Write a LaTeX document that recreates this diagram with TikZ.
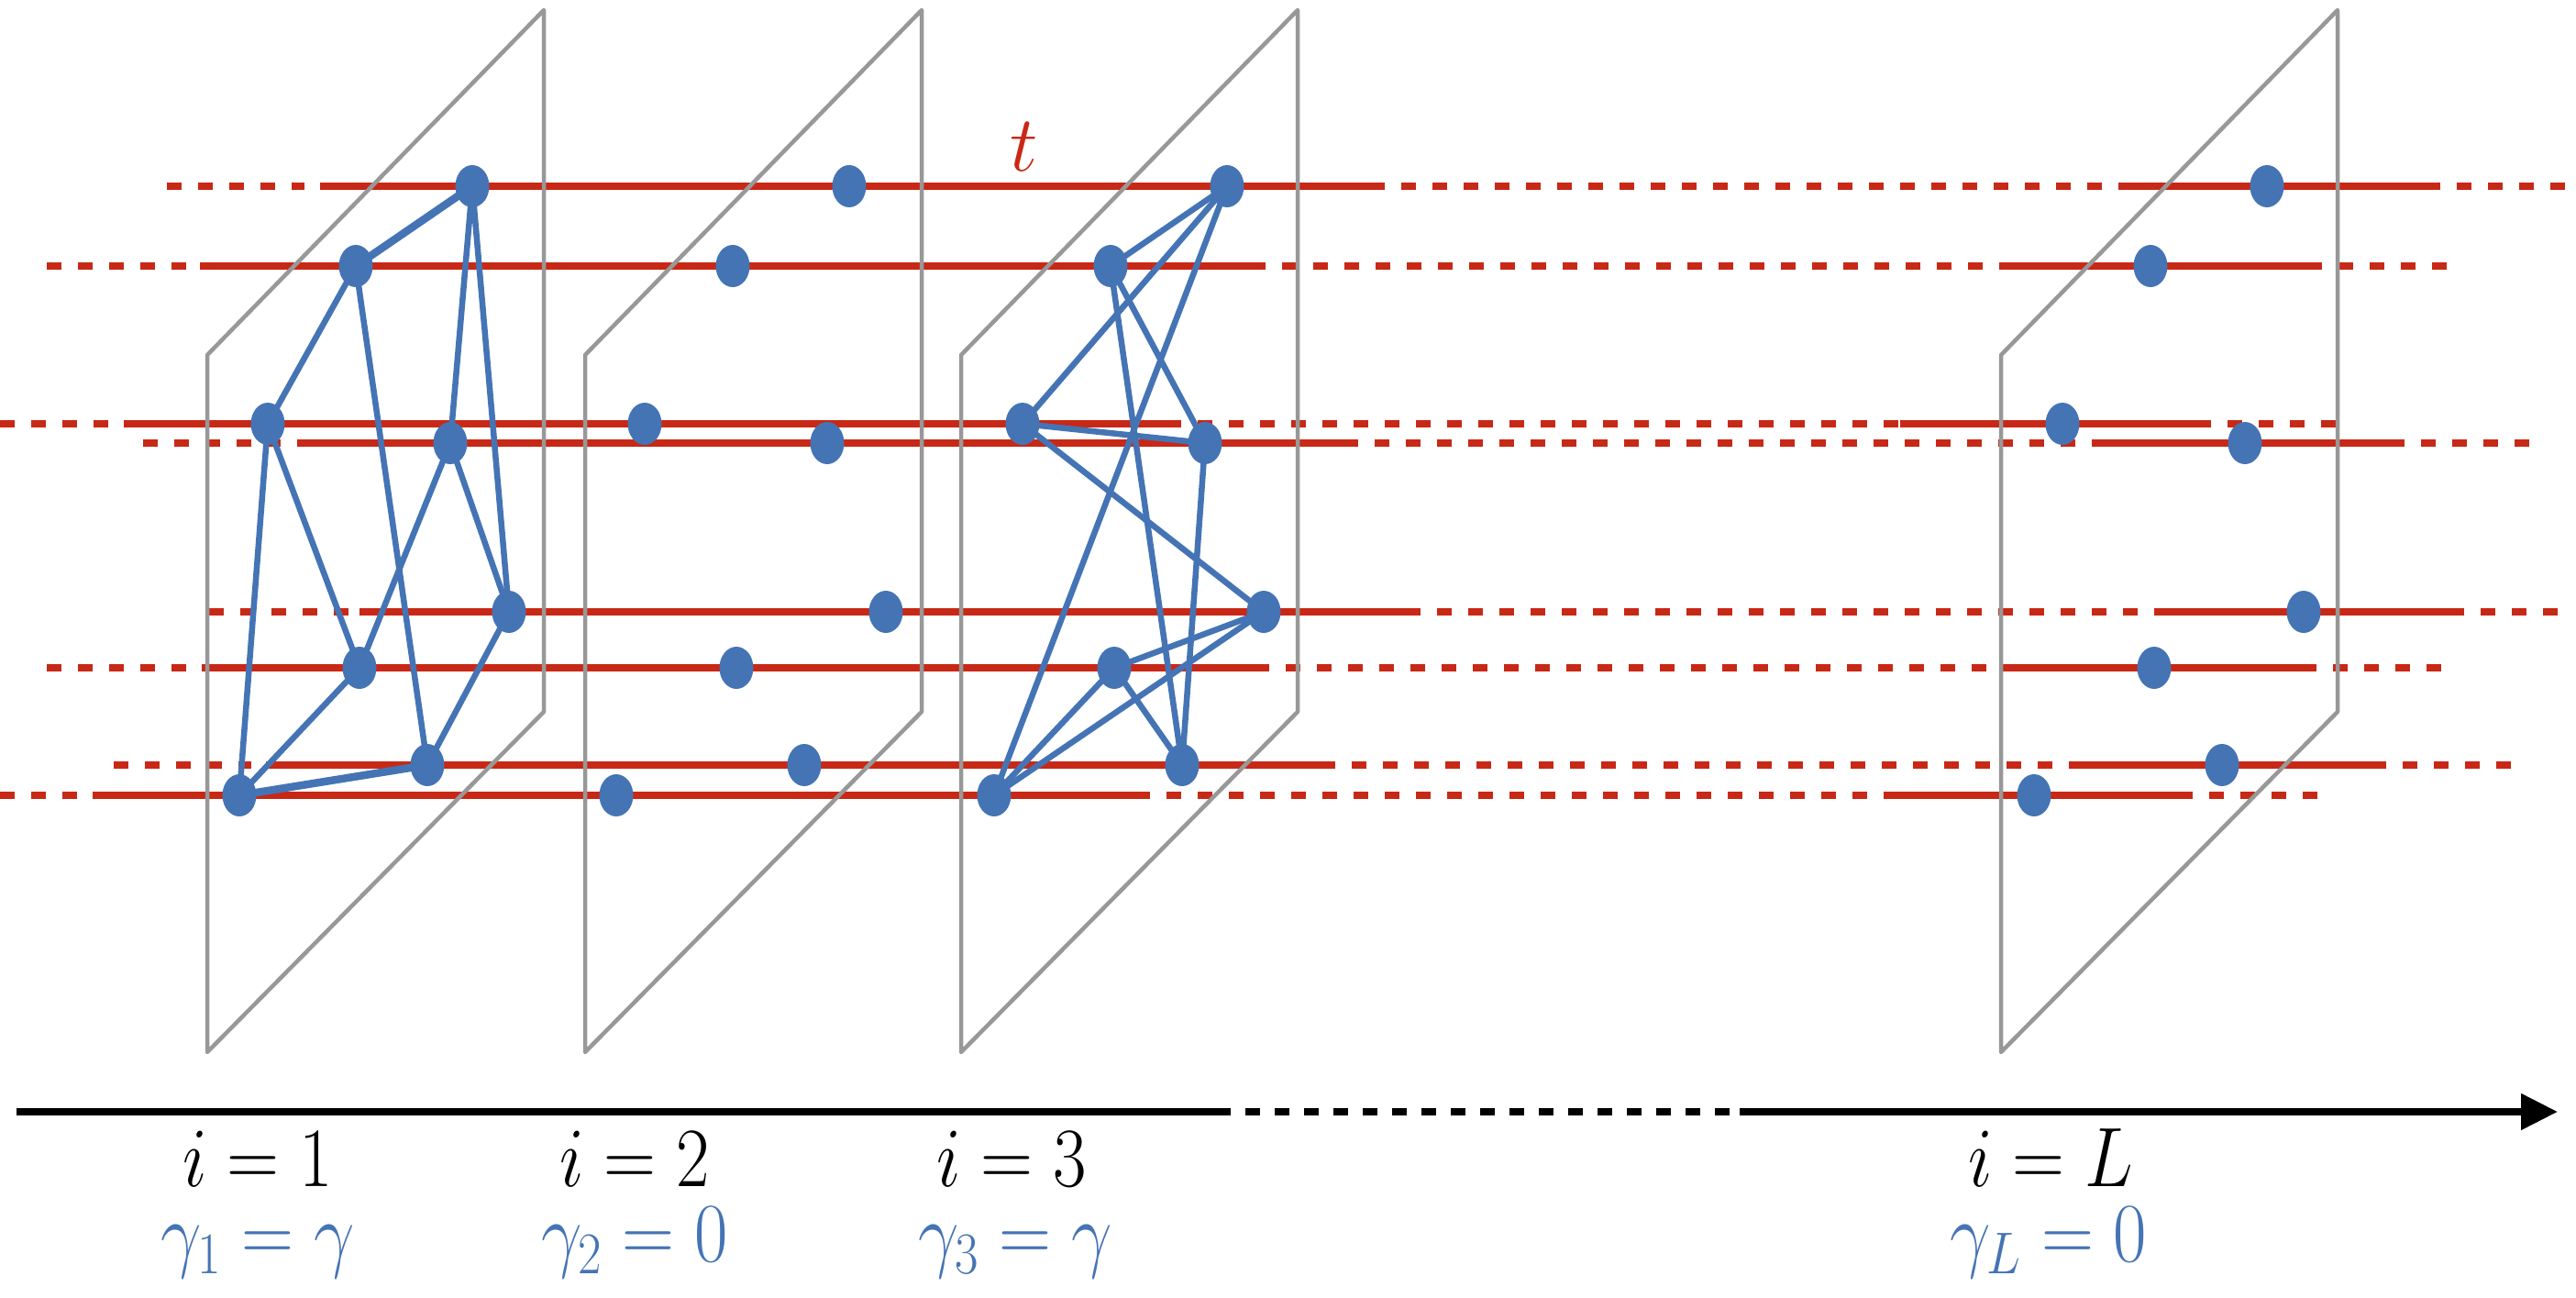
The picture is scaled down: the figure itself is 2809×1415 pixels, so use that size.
\RequirePackage{fix-cm}
\documentclass[tikz,border=0pt]{standalone}
\usetikzlibrary{arrows.meta,shapes.geometric}
\definecolor{cred}{RGB}{200,40,22}
\definecolor{cblue}{RGB}{69,116,181}
\definecolor{cgray}{RGB}{152,152,152}
\newcommand{\sqz}[1]{\scalebox{0.86}[1]{#1}}
\pgfdeclarelayer{back}
\pgfdeclarelayer{mid}
\pgfsetlayers{back,mid,main}
\begin{document}
\begin{tikzpicture}[x=1pt,y=-1pt,
  redsolid/.style={draw=cred,line width=8.5pt},
  reddash/.style={draw=cred,line width=8pt,dash pattern=on 16pt off 18pt},
  planebox/.style={draw=cgray,line width=4.5pt,line join=round},
  edgeline/.style={draw=cblue,line width=6.5pt,line cap=round},
  thickedge/.style={edgeline,line width=8.5pt},
  vert/.style={ellipse,fill=cblue,minimum width=37pt,minimum height=46pt,inner sep=0pt},
  axisline/.style={draw=black,line width=8pt},
  bigfont/.style={font=\fontsize{92pt}{105pt}\selectfont}
]
\useasboundingbox (0,0) rectangle (2809,1415);

% vertices (same layout in each plane, shifted)
\foreach \pl/\dx in {a/0,b/411,c/823,l/1957}{
  \node[vert] (\pl1) at (515+\dx,203) {};
  \node[vert] (\pl2) at (388+\dx,290) {};
  \node[vert] (\pl3) at (292+\dx,462) {};
  \node[vert] (\pl4) at (491+\dx,483) {};
  \node[vert] (\pl5) at (555+\dx,667) {};
  \node[vert] (\pl6) at (392+\dx,728) {};
  \node[vert] (\pl7) at (466+\dx,834) {};
  \node[vert] (\pl8) at (261+\dx,867) {};
}

\begin{pgfonlayer}{back}
  % red time lines
  \foreach \y/\a/\b/\c/\d/\e/\f/\g in {
    203/182/332/349/1494/2310/2645/2799,
    290/51/217/218/1364/2183/2516/2669,
    462/0/118/135/1272/2072/2395/2557,
    483/156/306/324/1465/2286/2606/2770,
    667/228/383/392/1533/2352/2671/2799,
    728/51/217/220/1368/2186/2510/2671,
    834/124/274/290/1440/2261/2586/2739,
    867/0/86/101/1238/2056/2375/2537}{
    \draw[reddash] (\a,\y) -- (\b,\y);
    \draw[redsolid] (\c,\y) -- (\d,\y);
    \draw[reddash] (\d,\y) -- (\e,\y);
    \draw[redsolid] (\e,\y) -- (\f,\y);
    \draw[reddash] (\f,\y) -- (\g,\y);
  }
  % planes
  \foreach \dx in {0,412,822,1956}{
    \draw[planebox] (226+\dx,1147) -- (226+\dx,387) -- (593+\dx,11) -- (593+\dx,776) -- cycle;
  }
\end{pgfonlayer}

\begin{pgfonlayer}{mid}
  \foreach \u/\v in {1/4,1/5,2/3,2/7,3/8,3/6,4/6,4/5,6/8,5/7}{
    \draw[edgeline] (a\u.center) -- (a\v.center);
  }
  \draw[thickedge] (a1.center) -- (a2.center);
  \draw[thickedge] (a7.center) -- (a8.center);
  \foreach \u/\v in {1/2,1/3,1/8,2/4,2/7,3/4,3/5,4/7,5/6,5/8,6/7,6/8}{
    \draw[edgeline] (c\u.center) -- (c\v.center);
  }
\end{pgfonlayer}

% time label
\node[font=\fontsize{86pt}{100pt}\selectfont,text=cred,anchor=base,inner sep=0pt] (tlab) at (1117,187) {$t$};

% axis
\coordinate (ax0) at (18,1212);
\coordinate (ax1) at (1326,1212);
\coordinate (ax2) at (1897,1212);
\coordinate (ax3) at (2789,1212);
\draw[axisline] (ax0) -- (ax1);
\draw[axisline,dash pattern=on 16pt off 16pt] (ax1) -- (ax2);
\draw[axisline,-{Triangle[length=40pt,width=38pt]}] (ax2) -- (ax3);

% labels
\node[bigfont,anchor=base,inner sep=0pt] (i1) at (281,1293) {\sqz{$i=1$}};
\node[bigfont,anchor=base,inner sep=0pt] (i2) at (692,1293) {\sqz{$i=2$}};
\node[bigfont,anchor=base,inner sep=0pt] (i3) at (1103,1293) {\sqz{$i=3$}};
\node[bigfont,anchor=base,inner sep=0pt] (iL) at (2236,1293) {\sqz{$i=L$}};
\node[bigfont,text=cblue,anchor=base,inner sep=0pt] (g1) at (281,1375) {\sqz{$\gamma_1=\gamma$}};
\node[bigfont,text=cblue,anchor=base,inner sep=0pt] (g2) at (692,1375) {\sqz{$\gamma_2=0$}};
\node[bigfont,text=cblue,anchor=base,inner sep=0pt] (g3) at (1107,1375) {\sqz{$\gamma_3=\gamma$}};
\node[bigfont,text=cblue,anchor=base,inner sep=0pt] (gL) at (2234,1375) {\sqz{$\gamma_L=0$}};
\end{tikzpicture}
\end{document}
